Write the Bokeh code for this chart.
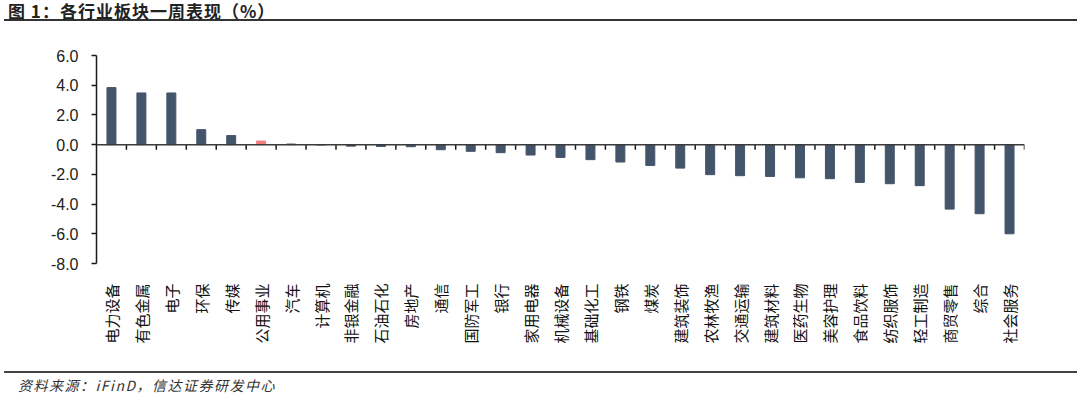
import numpy as np
from math import pi
from bokeh.plotting import figure
from bokeh.models import (Range1d, FixedTicker, NumeralTickFormatter, Span, Div,
                          ColumnDataSource)
from bokeh.layouts import column
from bokeh.embed import file_html
from bokeh.resources import INLINE

# ---- data ----
categories = ["电力设备", "有色金属", "电子", "环保", "传媒", "公用事业", "汽车", "计算机",
              "非银金融", "石油石化", "房地产", "通信", "国防军工", "银行", "家用电器",
              "机械设备", "基础化工", "钢铁", "煤炭", "建筑装饰", "农林牧渔", "交通运输",
              "建筑材料", "医药生物", "美容护理", "食品饮料", "纺织服饰", "轻工制造",
              "商贸零售", "综合", "社会服务"]
values = [3.84, 3.48, 3.48, 1.01, 0.61, 0.24, 0.04, -0.02,
          -0.10, -0.12, -0.14, -0.34, -0.45, -0.54, -0.70,
          -0.86, -1.01, -1.17, -1.40, -1.58, -2.02, -2.09,
          -2.14, -2.23, -2.29, -2.54, -2.63, -2.76,
          -4.34, -4.65, -6.00]
highlight = "公用事业"
y_ticks = [-8, -6, -4, -2, 0, 2, 4, 6]
title_text = "图 1：各行业板块一周表现（%）"
source_text = "资料来源：iFinD，信达证券研发中心"

BAR = "#44546A"
RED = "#F47C7C"

idx = np.arange(len(categories))
colors = [RED if c == highlight else BAR for c in categories]
src = ColumnDataSource(dict(x=idx, top=values, color=colors))

W = 1080
p = figure(width=W, height=346, output_backend="svg", toolbar_location=None,
           x_range=Range1d(-0.5, len(categories) - 0.5),
           y_range=Range1d(min(y_ticks), max(y_ticks)),
           min_border_left=96, min_border_right=56, min_border_top=31, min_border_bottom=107)
p.margin = 0
p.outline_line_color = None
p.xgrid.grid_line_color = None
p.ygrid.grid_line_color = None
p.background_fill_color = "white"
p.border_fill_color = "white"

p.vbar(x="x", top="top", bottom=0, width=0.3, fill_color="color", line_color="color", source=src)

# zero line with category separator ticks
p.add_layout(Span(location=0, dimension="width", line_color="#3a3a3a", line_width=1.5))
bnd = idx + 0.5
p.segment(x0=bnd, y0=np.zeros(len(bnd)), x1=bnd, y1=np.full(len(bnd), -0.34),
          line_color="#1a1a1a", line_width=1.5)

# y axis
ya = p.yaxis[0]
ya.ticker = FixedTicker(ticks=y_ticks)
ya.formatter = NumeralTickFormatter(format="0.0")
ya.axis_line_color = "#1a1a1a"
ya.axis_line_width = 1.5
ya.major_tick_line_color = "#1a1a1a"
ya.major_tick_line_width = 1.5
ya.major_tick_out = 5
ya.major_tick_in = 0
ya.minor_tick_line_color = None
ya.major_label_standoff = 13
ya.major_label_text_font = "Liberation Sans"
ya.major_label_text_font_size = "16px"
ya.major_label_text_color = "#222222"

# x axis (category labels at the bottom)
xa = p.xaxis[0]
xa.ticker = FixedTicker(ticks=list(idx))
xa.major_label_overrides = {int(i): c for i, c in zip(idx, categories)}
xa.axis_line_color = None
xa.major_tick_line_color = None
xa.minor_tick_line_color = None
xa.major_tick_out = 0
xa.major_tick_in = 0
xa.major_label_standoff = 20
xa.major_label_orientation = pi / 2
xa.major_label_text_font = "Noto Sans CJK SC"
xa.major_label_text_font_size = "15px"
xa.major_label_text_color = "#111111"

title = Div(width=W, height=24, margin=0,
            text=('<div style="margin-left:4px;width:1073px;padding-top:1px;padding-left:4px;'
                  'box-sizing:border-box;font-family:\'Noto Sans CJK SC\';font-weight:bold;'
                  'font-size:17px;letter-spacing:1px;line-height:19px;height:21px;color:#222;'
                  'border-bottom:2px solid #333;white-space:nowrap;">%s</div>') % title_text)
footer = Div(width=W, height=27, margin=0,
             text=('<div style="margin-left:4px;width:1073px;border-top:2px solid #444;'
                   'margin-top:1px;"></div>'
                   '<div style="font-family:\'Noto Sans CJK SC\';font-style:italic;font-size:14px;'
                   'letter-spacing:1.5px;color:#333;padding-left:18px;line-height:16px;'
                   'padding-top:4px;white-space:nowrap;">%s</div>') % source_text)

layout = column(title, p, footer, spacing=0)
open("out.html", "w").write(file_html(layout, INLINE))
